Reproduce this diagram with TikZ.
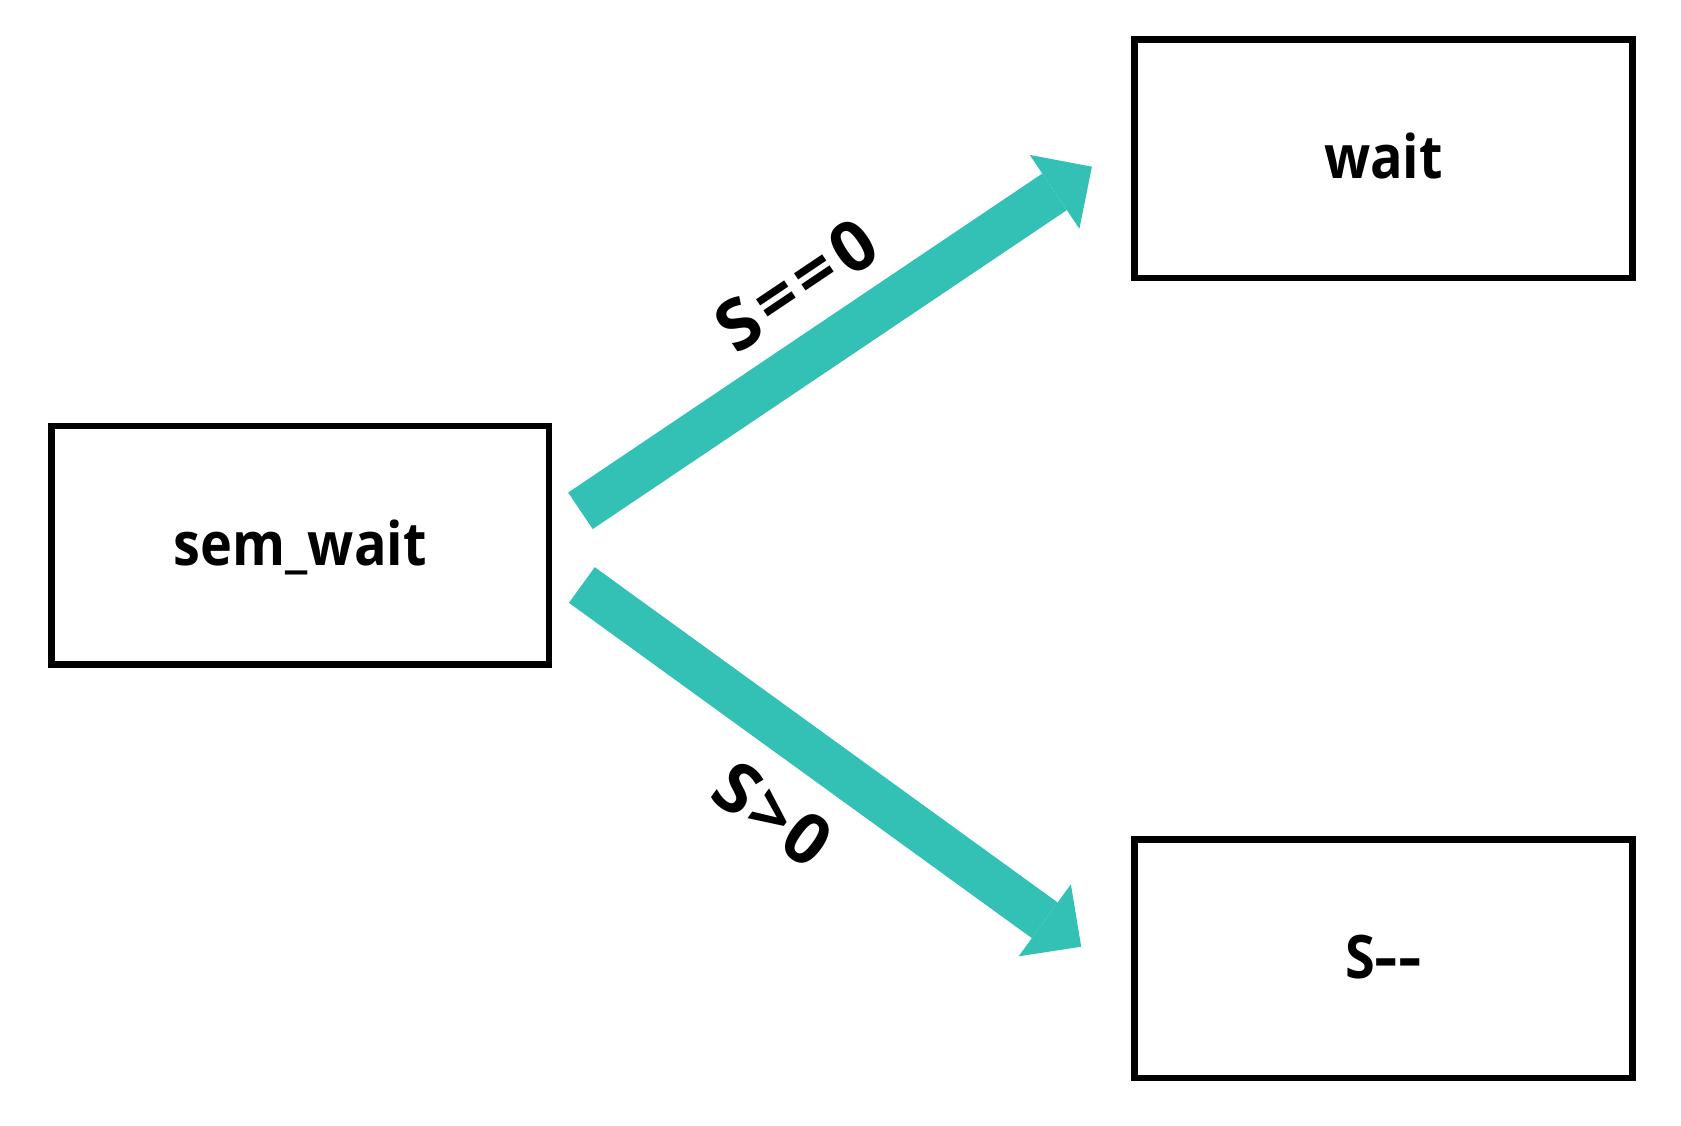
\documentclass[tikz,border=0pt]{standalone}
\usepackage{fontspec}
\usepackage{graphicx}
\setmainfont{Open Sans}
\newfontfamily\boxfont{Open Sans}[FakeStretch=0.9]
\usetikzlibrary{arrows.meta}
\definecolor{flowcol}{HTML}{32C1B4}
\newcommand{\widehy}{\scalebox{1.35}[1]{-}}
\begin{document}
\begin{tikzpicture}[x=1pt,y=-1pt,
  box/.style={draw=black, line width=6.7pt, rectangle, minimum width=497.6pt,
    minimum height=238.5pt, inner sep=0pt, outer sep=0pt,
    font=\boxfont\fontsize{60}{72}\selectfont\bfseries, text height=40pt, text depth=0pt},
  flow/.style={draw=flowcol, line width=44pt,
    -{Triangle[width=89pt,length=45pt,line width=0pt]}},
  lbl/.style={font=\fontsize{70}{84}\selectfont\bfseries, inner sep=0pt}]
\fill[white] (0,0) rectangle (1681,1126);
\useasboundingbox (0,0) rectangle (1681,1126);
\node[box] (sw) at (300.3,545.3) {sem\_wait};
\node[box] (wt) at (1383.4,158.7) {wait};
\node[box] (sd) at (1383.4,958.6) {S\widehy\widehy};
\draw[flow] ([xshift=31.35pt,yshift=34.5pt]sw.east) -- ([xshift=-42.7pt,yshift=-8pt]wt.west);
\draw[flow] ([xshift=32.75pt,yshift=-39.7pt]sw.east) -- ([xshift=-53.4pt,yshift=11.9pt]sd.west);
\node[lbl, rotate=33.9] (l1) at (796,285) {\addfontfeatures{LetterSpace=9}S==0};
\node[lbl, rotate=-35.9] (l2) at (773,814) {\addfontfeatures{LetterSpace=5}S>0};
\end{tikzpicture}
\end{document}
